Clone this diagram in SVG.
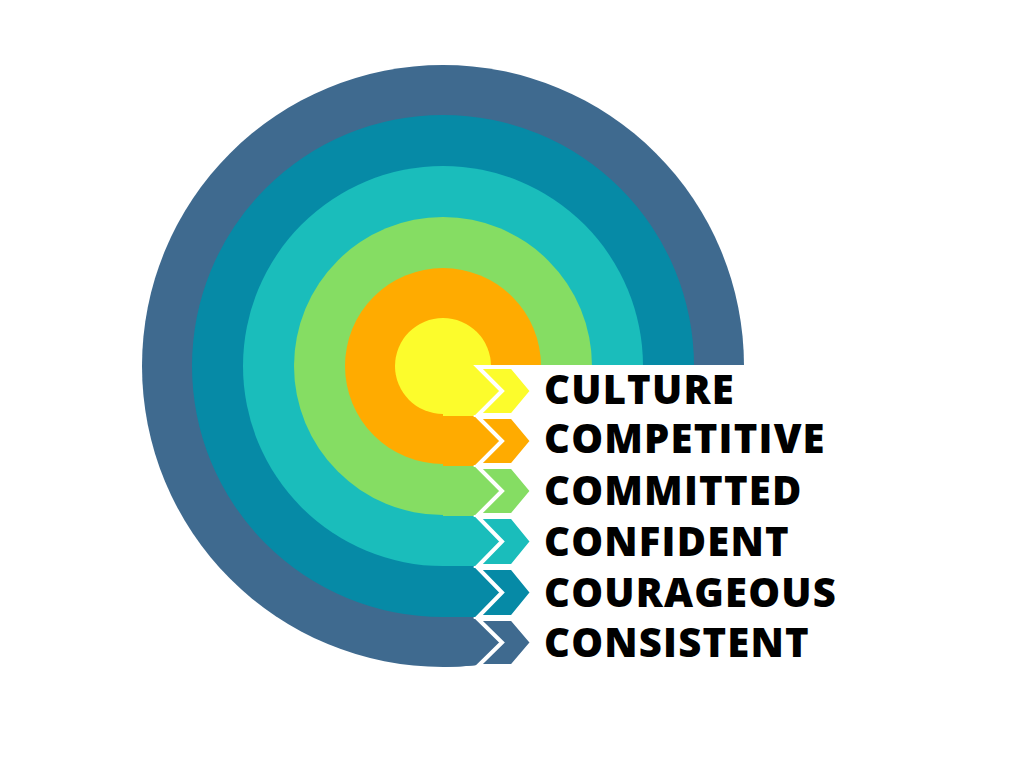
<svg xmlns="http://www.w3.org/2000/svg" width="1024" height="768" viewBox="0 0 1024 768">
<style>
.lbl{font-family:"Open Sans","Liberation Sans",sans-serif;font-weight:800;font-size:40px;letter-spacing:1.2px;fill:#000}
.chev{stroke:#fff;stroke-width:4;stroke-linejoin:miter}
.c1{fill:#3f6a8f}.c2{fill:#068aa6}.c3{fill:#1abdbb}.c4{fill:#85dd63}.c5{fill:#ffab00}.c6{fill:#fcfc2c}
</style>
<rect width="1024" height="768" fill="#fff"/>
<g id="rings">
<circle class="c1" cx="443" cy="366" r="301"/>
<path class="c1" d="M443,366 H503 V664 L478,665 Q460,667 443,667 Z"/>
<circle class="c2" cx="443" cy="366" r="251"/>
<rect class="c2" x="443" y="366" width="60" height="251"/>
<circle class="c3" cx="443" cy="366" r="200"/>
<rect class="c3" x="443" y="366" width="60" height="200"/>
<circle class="c4" cx="443" cy="366" r="149"/>
<rect class="c4" x="443" y="366" width="60" height="150"/>
<circle class="c5" cx="443" cy="366" r="98"/>
<rect class="c5" x="443" y="366" width="60" height="100"/>
<circle class="c6" cx="443" cy="366" r="48"/>
<rect class="c6" x="443" y="366" width="60" height="50"/>
<rect x="503" y="365" width="521" height="403" fill="#fff"/>
</g>
<g id="chevrons">
<polygon class="chev c6" points="478,367 512,367 532,391 512,415 478,415 502,391"/>
<polygon class="chev c5" points="478,417 512,417 532,441 512,465 478,465 502,441"/>
<polygon class="chev c4" points="478,467 512,467 532,491 512,515 478,515 502,491"/>
<polygon class="chev c3" points="478,517 512,517 532,541.5 512,566 478,566 502,541.5"/>
<polygon class="chev c2" points="478,568 512,568 532,592.5 512,617 478,617 502,592.5"/>
<polygon class="chev c1" points="478,619 512,619 532,642.5 512,666 478,666 502,642.5"/>
</g>
<g id="labels">
<text class="lbl" x="544" y="404">CULTURE</text>
<text class="lbl" x="544" y="453">COMPETITIVE</text>
<text class="lbl" x="544" y="505">COMMITTED</text>
<text class="lbl" x="544" y="556">CONFIDENT</text>
<text class="lbl" x="544" y="607">COURAGEOUS</text>
<text class="lbl" x="544" y="657">CONSISTENT</text>
</g>
</svg>
